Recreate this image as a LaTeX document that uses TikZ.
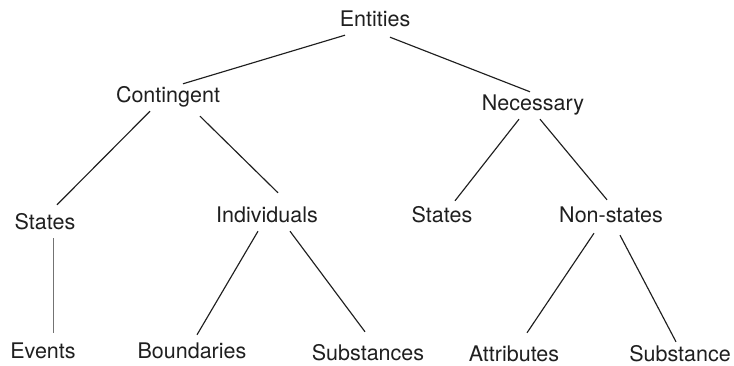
\documentclass[tikz,border=0pt]{standalone}
\usepackage{fontspec}
\setmainfont{TeX Gyre Heros}
\usetikzlibrary{positioning}
\colorlet{ink}{black!88}

\begin{document}
    \begin{tikzpicture}[
            x=1pt, y=-1pt,
            lbl/.style={anchor=base, inner sep=3pt, text height=16pt, text depth=5pt,
                text=ink, font=\fontsize{21.5}{24}\selectfont},
            edge/.style={ink, line width=1.15pt},
            thin edge/.style={black!55, line width=0.6pt}
        ]
        \useasboundingbox (0,0) rectangle (734,366);
        \node[lbl] (ent) at (375,27) {Entities};
        \node[lbl] (con) at (168,103) {Contingent};
        \node[lbl] (nec) at (533,111) {Necessary};
        \node[lbl] (sta) at (45,230) {States};
        \node[lbl] (ind) at (267,223) {Individuals};
        \node[lbl] (stn) at (442,223) {States};
        \node[lbl] (non) at (611,223) {Non-states};
        \node[lbl] (evt) at (43,358) {Events};
        \node[lbl] (bnd) at (192,358) {Boundaries};
        \node[lbl] (sbs) at (368,360) {Substances};
        \node[lbl] (att) at (514,361) {Attributes};
        \node[lbl] (sbt) at (680,361) {Substance};

        \draw[edge] ([xshift=-30pt]ent.south) -- ([xshift=15pt]con.north);
        \draw[edge] ([xshift=15pt,yshift=-2pt]ent.south) -- ([xshift=-3pt]nec.north);
        \draw[edge] ([xshift=-18pt]con.south) -- ([xshift=12pt,yshift=6pt]sta.north);
        \draw[edge] ([xshift=32pt,yshift=-5pt]con.south) -- ([xshift=11pt,yshift=11pt]ind.north);
        \draw[edge] ([xshift=-14pt]nec.south) -- ([xshift=13pt,yshift=3pt]stn.north);
        \draw[edge] ([xshift=7pt]nec.south) -- ([xshift=-4pt,yshift=4pt]non.north);
        \draw[thin edge] ([xshift=8pt]sta.south) -- ([xshift=10pt,yshift=6pt]evt.north);
        \draw[edge] ([xshift=-9pt]ind.south) -- ([xshift=5pt,yshift=4pt]bnd.north);
        \draw[edge] ([xshift=23pt]ind.south) -- ([xshift=-3pt,yshift=9pt]sbs.north);
        \draw[edge] ([xshift=-17pt,yshift=-2pt]non.south) -- ([xshift=13pt,yshift=9pt]att.north);
        \draw[edge] ([xshift=9pt,yshift=-4pt]non.south) -- ([xshift=-4pt,yshift=0pt]sbt.north);
    \end{tikzpicture}
\end{document}
